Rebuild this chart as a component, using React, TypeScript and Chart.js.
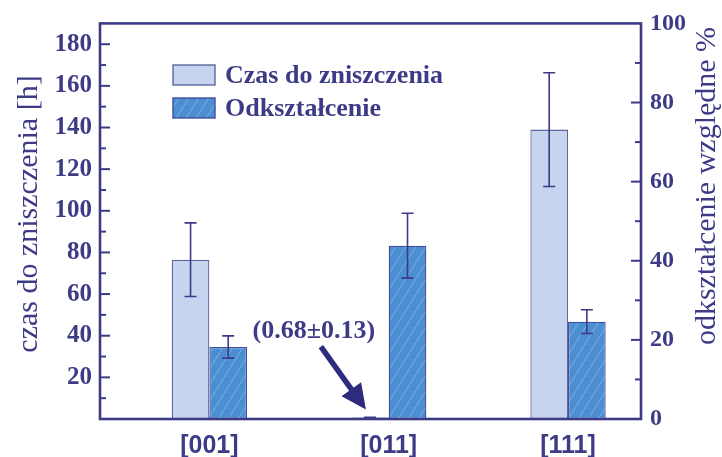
import { useEffect, useRef } from 'react';
import { Chart, registerables } from 'chart.js';

Chart.register(...registerables);

// Orientations of the single crystals
const categories = ['[001]', '[011]', '[111]'];
const positions = [1, 2, 3];

// Time to failure [h] with its spread
const timeToFailure = [76.5, 0.68, 139];
const timeToFailureErr = [17.7, 0.13, 27.3];

// Relative strain [%] with its spread
const strain = [18.2, 43.8, 24.6];
const strainErr = [2.8, 8.2, 3.0];

// Labelled ticks on both value axes
const leftTickLabels = [20, 40, 60, 80, 100, 120, 140, 160, 180];
const rightTickLabels = [0, 20, 40, 60, 80, 100];

const seriesNames = ['Czas do zniszczenia', 'Odkształcenie'];
const leftTitle = 'czas do zniszczenia [h]';
const rightTitle = 'odkształcenie względne %';
const noteText = '(0.68±0.13)';

const NAVY = '#3d3b86';
const SERIF = '"Liberation Serif", "Times New Roman", serif';
const SANS = '"Liberation Sans", Arial, sans-serif';

function makeHatch(): CanvasPattern | string {
  const w = 10;
  const h = 16;
  const c = document.createElement('canvas');
  c.width = w;
  c.height = h;
  const g = c.getContext('2d');
  if (!g) return '#4b8ed2';
  g.fillStyle = '#4b8ed2';
  g.fillRect(0, 0, w, h);
  g.strokeStyle = 'rgba(150, 195, 240, 0.45)';
  g.lineWidth = 1.3;
  g.beginPath();
  g.moveTo(-w, 2 * h);
  g.lineTo(w, 0);
  g.moveTo(0, h);
  g.lineTo(w, 0);
  g.moveTo(0, h);
  g.lineTo(2 * w, -h);
  g.stroke();
  const p = g.createPattern(c, 'repeat');
  return p || '#4b8ed2';
}

const errorSets = [timeToFailureErr, strainErr];

const decorPlugin = {
  id: 'decor',
  afterDatasetsDraw(chart: any) {
    const ctx = chart.ctx;
    ctx.save();
    ctx.strokeStyle = NAVY;
    ctx.lineWidth = 1.6;
    chart.data.datasets.forEach((ds: any, di: number) => {
      const meta = chart.getDatasetMeta(di);
      const yScale = chart.scales[meta.yAxisID];
      meta.data.forEach((bar: any, i: number) => {
        const v = ds.data[i].y;
        const e = errorSets[di][i];
        const top = yScale.getPixelForValue(v + e);
        const bot = yScale.getPixelForValue(v - e);
        const x = bar.x;
        ctx.beginPath();
        ctx.moveTo(x, top);
        ctx.lineTo(x, bot);
        ctx.moveTo(x - 6, top);
        ctx.lineTo(x + 6, top);
        ctx.moveTo(x - 6, bot);
        ctx.lineTo(x + 6, bot);
        ctx.stroke();
      });
    });
    ctx.restore();
  },
  afterDraw(chart: any) {
    const ctx = chart.ctx;
    const { left, right, top, bottom } = chart.chartArea;
    ctx.save();

    // frame
    ctx.strokeStyle = NAVY;
    ctx.lineWidth = 2.6;
    ctx.strokeRect(left, top, right - left, bottom - top);

    // inward tick marks
    ctx.lineWidth = 2;
    const yl = chart.scales.yL;
    yl.ticks.forEach((t: any) => {
      if (t.value <= yl.min || t.value >= yl.max) return;
      const y = yl.getPixelForValue(t.value);
      const len = t.value % 20 === 0 ? 10 : 6;
      ctx.beginPath();
      ctx.moveTo(left, y);
      ctx.lineTo(left + len, y);
      ctx.stroke();
    });
    const yr = chart.scales.yR;
    yr.ticks.forEach((t: any) => {
      if (t.value <= yr.min || t.value >= yr.max) return;
      const y = yr.getPixelForValue(t.value);
      const len = t.value % 20 === 0 ? 10 : 6;
      ctx.beginPath();
      ctx.moveTo(right, y);
      ctx.lineTo(right - len, y);
      ctx.stroke();
    });

    // axis titles
    ctx.fillStyle = NAVY;
    ctx.textAlign = 'center';
    ctx.textBaseline = 'middle';
    ctx.font = `30px ${SERIF}`;
    ctx.save();
    ctx.translate(29, 214);
    ctx.rotate(-Math.PI / 2);
    ctx.fillText(leftTitle, 0, 0);
    ctx.restore();
    ctx.save();
    ctx.translate(707, 186);
    ctx.rotate(-Math.PI / 2);
    ctx.fillText(rightTitle, 0, 0);
    ctx.restore();

    // legend
    const rows = [75, 108];
    chart.data.datasets.forEach((ds: any, di: number) => {
      const cy = rows[di];
      ctx.fillStyle = ds.backgroundColor;
      ctx.fillRect(173, cy - 10, 42, 20);
      ctx.strokeStyle = ds.borderColor;
      ctx.lineWidth = 1.4;
      ctx.strokeRect(173, cy - 10, 42, 20);
      ctx.fillStyle = NAVY;
      ctx.font = `bold 26px ${SERIF}`;
      ctx.textAlign = 'left';
      ctx.textBaseline = 'middle';
      ctx.fillText(ds.label, 225, cy + 1);
    });

    // note with arrow pointing at the tiny [011] bar
    const thin = chart.getDatasetMeta(0).data[1];
    const tipX = thin.x - 4;
    const tipY = thin.y - 8;
    const tailX = tipX - 45;
    const tailY = tipY - 63;
    const dx = tipX - tailX;
    const dy = tipY - tailY;
    const L = Math.hypot(dx, dy);
    const ux = dx / L;
    const uy = dy / L;
    const headLen = 25;
    const halfW = 12;
    const bx = tipX - ux * headLen;
    const by = tipY - uy * headLen;
    ctx.strokeStyle = '#2e2b7c';
    ctx.fillStyle = '#2e2b7c';
    ctx.lineWidth = 5.5;
    ctx.beginPath();
    ctx.moveTo(tailX, tailY);
    ctx.lineTo(bx + ux * 2, by + uy * 2);
    ctx.stroke();
    ctx.beginPath();
    ctx.moveTo(tipX, tipY);
    ctx.lineTo(bx - uy * halfW, by + ux * halfW);
    ctx.lineTo(bx + uy * halfW, by - ux * halfW);
    ctx.closePath();
    ctx.fill();

    ctx.fillStyle = NAVY;
    ctx.font = `bold 26px ${SERIF}`;
    ctx.textAlign = 'center';
    ctx.textBaseline = 'middle';
    ctx.fillText(noteText, tipX - 52, tipY - 78);

    ctx.restore();
  },
};

export default function App() {
  const ref = useRef<HTMLCanvasElement | null>(null);

  useEffect(() => {
    if (!ref.current) return;
    const hatch = makeHatch();
    const chart = new Chart(ref.current, {
      type: 'bar',
      data: {
        datasets: [
          {
            label: seriesNames[0],
            data: positions.map((x, i) => ({ x, y: timeToFailure[i] })),
            yAxisID: 'yL',
            backgroundColor: '#c7d4ef',
            borderColor: '#5e669c',
            borderWidth: 1.3,
            borderSkipped: false,
            categoryPercentage: 0.42,
            barPercentage: 1,
          },
          {
            label: seriesNames[1],
            data: positions.map((x, i) => ({ x, y: strain[i] })),
            yAxisID: 'yR',
            backgroundColor: hatch as any,
            borderColor: '#3f4f9c',
            borderWidth: 1.3,
            borderSkipped: false,
            categoryPercentage: 0.42,
            barPercentage: 1,
          },
        ],
      } as any,
      options: {
        responsive: false,
        animation: false,
        devicePixelRatio: 1,
        layout: { padding: { top: 14, left: 0, right: 0, bottom: 0 } },
        plugins: {
          legend: { display: false },
          tooltip: { enabled: false },
        },
        scales: {
          x: {
            type: 'linear',
            min: 0.39,
            max: 3.407,
            offset: false,
            grid: { display: false, drawTicks: false },
            border: { display: false },
            afterBuildTicks: (s: any) => {
              s.ticks = positions.map((v) => ({ value: v }));
            },
            afterFit: (s: any) => {
              s.height = 38;
            },
            ticks: {
              autoSkip: false,
              maxRotation: 0,
              padding: 12,
              color: NAVY,
              font: { family: SANS, size: 25, weight: 'bold' },
              callback: (v: any) => categories[positions.indexOf(Number(v))] ?? '',
            },
          },
          yL: {
            type: 'linear',
            position: 'left',
            min: 0,
            max: 190,
            grid: { display: false, drawTicks: false },
            border: { display: false },
            afterFit: (s: any) => {
              s.width = 100;
            },
            ticks: {
              stepSize: 10,
              autoSkip: false,
              padding: 8,
              color: NAVY,
              font: { family: SERIF, size: 25, weight: 'bold' },
              callback: (v: any) => (leftTickLabels.includes(Number(v)) ? String(v) : ''),
            },
          },
          yR: {
            type: 'linear',
            position: 'right',
            min: 0,
            max: 100,
            grid: { display: false, drawTicks: false },
            border: { display: false },
            afterFit: (s: any) => {
              s.width = 81;
            },
            ticks: {
              stepSize: 10,
              autoSkip: false,
              padding: 9,
              color: NAVY,
              font: { family: SERIF, size: 24, weight: 'bold' },
              callback: (v: any) => (rightTickLabels.includes(Number(v)) ? String(v) : ''),
            },
          },
        },
      } as any,
      plugins: [decorPlugin],
    });
    return () => chart.destroy();
  }, []);

  return (
    <div style={{ position: 'absolute', left: 0, top: 0, width: 722, height: 457, background: '#fff' }}>
      <canvas ref={ref} width={722} height={457} />
    </div>
  );
}
